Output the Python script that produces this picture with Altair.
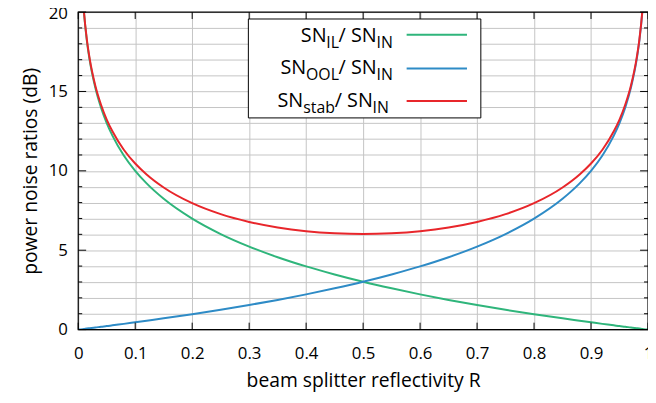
import altair as alt
import pandas as pd

# ---- data ----
R_il = [0.008, 0.01, 0.015, 0.02, 0.03, 0.04, 0.05, 0.06, 0.08, 0.1, 0.12, 0.15, 0.2, 0.25, 0.3, 0.35,
        0.4, 0.45, 0.5, 0.55, 0.6, 0.65, 0.7, 0.75, 0.8, 0.85, 0.88, 0.9, 0.92, 0.94, 0.95, 0.96, 0.97,
        0.98, 0.985, 0.99, 0.992, 1.0]
sn_il = [20.97, 20.00, 18.24, 16.99, 15.23, 13.98, 13.01, 12.22, 10.97, 10.00, 9.21, 8.24, 6.99, 6.02,
         5.23, 4.56, 3.98, 3.47, 3.01, 2.60, 2.22, 1.87, 1.55, 1.25, 0.97, 0.71, 0.56, 0.46, 0.36, 0.27,
         0.22, 0.18, 0.13, 0.09, 0.07, 0.04, 0.03, 0.00]

R_ool = [0.0, 0.008, 0.01, 0.015, 0.02, 0.03, 0.04, 0.05, 0.06, 0.08, 0.1, 0.12, 0.15, 0.2, 0.25, 0.3,
         0.35, 0.4, 0.45, 0.5, 0.55, 0.6, 0.65, 0.7, 0.75, 0.8, 0.85, 0.88, 0.9, 0.92, 0.94, 0.95, 0.96,
         0.97, 0.98, 0.985, 0.99, 0.992]
sn_ool = [0.00, 0.03, 0.04, 0.07, 0.09, 0.13, 0.18, 0.22, 0.27, 0.36, 0.46, 0.56, 0.71, 0.97, 1.25, 1.55,
          1.87, 2.22, 2.60, 3.01, 3.47, 3.98, 4.56, 5.23, 6.02, 6.99, 8.24, 9.21, 10.00, 10.97, 12.22,
          13.01, 13.98, 15.23, 16.99, 18.24, 20.00, 20.97]

R_stab = [0.008, 0.01, 0.015, 0.02, 0.03, 0.04, 0.05, 0.06, 0.08, 0.1, 0.12, 0.15, 0.2, 0.25, 0.3, 0.35,
          0.4, 0.45, 0.5, 0.55, 0.6, 0.65, 0.7, 0.75, 0.8, 0.85, 0.88, 0.9, 0.92, 0.94, 0.95, 0.96, 0.97,
          0.98, 0.985, 0.99, 0.992]
sn_stab = [21.00, 20.04, 18.31, 17.08, 15.36, 14.16, 13.23, 12.49, 11.33, 10.46, 9.77, 8.95, 7.96, 7.27,
           6.78, 6.43, 6.20, 6.07, 6.02, 6.07, 6.20, 6.43, 6.78, 7.27, 7.96, 8.95, 9.77, 10.46, 11.33,
           12.49, 13.23, 14.16, 15.36, 17.08, 18.31, 20.04, 21.00]

series_names = ["IL", "OOL", "stab"]
series_colors = ["#2fb57b", "#2e8bc6", "#e8262b"]

x_ticks = [0.0, 0.1, 0.2, 0.3, 0.4, 0.5, 0.6, 0.7, 0.8, 0.9, 1.0]
y_grid = list(range(0, 21))
y_major = [0, 5, 10, 15, 20]
y_minor = [v for v in y_grid if v not in y_major]

# ---- build tables ----
rows = []
for name, rs, vs in zip(series_names, [R_il, R_ool, R_stab], [sn_il, sn_ool, sn_stab]):
    for r, v in zip(rs, vs):
        rows.append({"series": name, "R": r, "dB": v})
df = pd.DataFrame(rows)

FONT = "Open Sans"
W, H = 576, 321
xscale = alt.Scale(domain=[0, 1], nice=False, zero=False)
yscale = alt.Scale(domain=[0, 20], nice=False)
cscale = alt.Scale(domain=series_names, range=series_colors)

x_axis = alt.Axis(
    values=x_ticks, grid=True, gridColor="#c4c4c4", gridWidth=1, ticks=False, domain=False,
    labelExpr="datum.value == 0 ? '0' : datum.value == 1 ? '1' : format(datum.value, '.1f')",
    labelFont=FONT, labelFontSize=17, labelColor="black", labelPadding=16, labelFlush=False,
    title="beam splitter reflectivity R", titleFont=FONT, titleFontSize=19.5,
    titleFontWeight="normal", titleColor="black", titlePadding=11)
y_axis = alt.Axis(
    values=y_grid, grid=True, gridColor="#c4c4c4", gridWidth=1, ticks=False, domain=False,
    labelExpr="datum.value % 5 == 0 ? datum.label : ''",
    labelOffset={"condition": {"test": "datum.value == 20", "value": 2}, "value": 0},
    labelFont=FONT, labelFontSize=17, labelColor="black", labelPadding=11, labelFlush=False,
    title="power noise ratios (dB)", titleFont=FONT, titleFontSize=19.5,
    titleFontWeight="normal", titleColor="black", titlePadding=8)

lines = alt.Chart(df).mark_line(strokeWidth=2, clip=True, interpolate="monotone").encode(
    x=alt.X("R:Q", scale=xscale, axis=x_axis),
    y=alt.Y("dB:Q", scale=yscale, axis=y_axis),
    color=alt.Color("series:N", scale=cscale, legend=None),
    order=alt.Order("R:Q"),
)

# inward ticks on all four sides
def yticks(vals, x0, x1):
    return alt.Chart(pd.DataFrame({"dB": vals})).mark_rule(color="black", strokeWidth=1).encode(
        y=alt.Y("dB:Q", scale=yscale, axis=y_axis), x=alt.value(x0), x2=alt.value(x1))

def xticks(vals, y0, y1):
    return alt.Chart(pd.DataFrame({"R": vals})).mark_rule(color="black", strokeWidth=1).encode(
        x=alt.X("R:Q", scale=xscale, axis=x_axis), y=alt.value(y0), y2=alt.value(y1))

tick_layers = [
    yticks(y_minor, 0, 4), yticks(y_major, 0, 8),
    yticks(y_minor, W - 4, W), yticks(y_major, W - 8, W),
    xticks(x_ticks, H - 7, H), xticks(x_ticks, 0, 7),
]

one = pd.DataFrame({"a": [0]})
frame = alt.Chart(one).mark_rect(fill=None, stroke="black", strokeWidth=1.2).encode(
    x=alt.value(0), x2=alt.value(W), y=alt.value(0), y2=alt.value(H))

# legend drawn by hand (subscripts)
legend_box = alt.Chart(one).mark_rect(fill="white", stroke="black", strokeWidth=1).encode(
    x=alt.value(172), x2=alt.value(407), y=alt.value(7), y2=alt.value(107))

legend_lines = []
for col, yy in zip(series_colors, [23, 57, 90]):
    legend_lines.append(alt.Chart(one).mark_rule(color=col, strokeWidth=2).encode(
        x=alt.value(332), x2=alt.value(393), y=alt.value(yy)))

# approximate advance widths (em) of the legend font, used to chain the pieces
ADV = {"S": 0.547, "N": 0.737, "I": 0.278, "L": 0.505, "O": 0.781, "s": 0.489, "t": 0.352,
       "a": 0.556, "b": 0.613, "/": 0.367, " ": 0.26}
MAIN, SUB = 20, 16


def width(t, fs):
    return sum(ADV[c] for c in t) * fs


legend_texts = []
# (subscript, right end x, baseline y)
for sub, right, base in [("IL", 318, 30), ("OOL", 318, 63), ("stab", 314, 96)]:
    pieces = [("SN", MAIN, 0), (sub, SUB, 6), ("/ SN", MAIN, 0), ("IN", SUB, 6)]
    xr = right
    for t, fs, dy in reversed(pieces):
        legend_texts.append(alt.Chart(one).mark_text(
            align="right", baseline="alphabetic", font=FONT, fontSize=fs, color="black").encode(
            x=alt.value(xr), y=alt.value(base + dy), text=alt.value(t)))
        xr -= width(t, fs)

chart = alt.layer(lines, *tick_layers, frame, legend_box, *legend_lines, *legend_texts).properties(
    width=W, height=H,
    autosize=alt.AutoSizeParams(type="none"),
    padding={"left": 71, "top": 2, "right": 0, "bottom": 64},
).configure_view(stroke=None).configure(background="white")

chart.save("out.html", embed_options={"renderer": "svg", "actions": False})
